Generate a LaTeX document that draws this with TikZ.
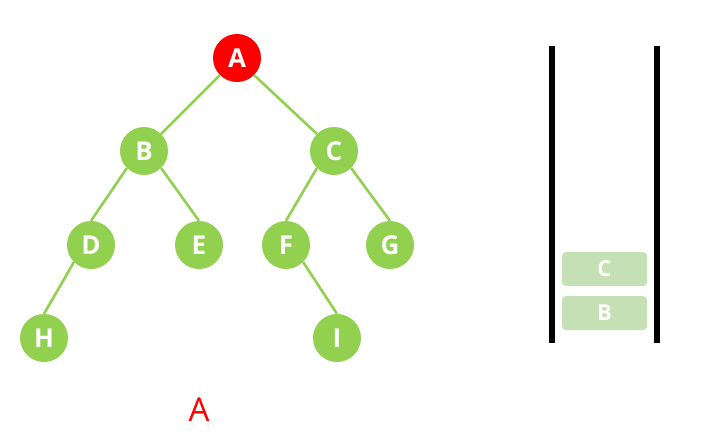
\documentclass[tikz,border=0pt]{standalone}
\usepackage{fontspec}
\setmainfont{Open Sans}
\definecolor{tgreen}{HTML}{92D050}
\definecolor{sgreen}{HTML}{C5E0B4}
\definecolor{tred}{HTML}{FF0000}
\begin{document}
\begin{tikzpicture}[x=1pt,y=-1pt,
  tn/.style={circle,fill=tgreen,minimum size=48pt,inner sep=0pt,text=white,font=\fontsize{26}{26}\selectfont\bfseries},
  rootn/.style={tn,fill=tred},
  edge/.style={draw=tgreen,line width=2.6pt},
  wall/.style={line width=6pt,black},
  sbox/.style={rounded corners=4pt,fill=sgreen,text=white,minimum width=85pt,minimum height=34pt,inner sep=0pt,font=\fontsize{22}{22}\selectfont\bfseries}]
\useasboundingbox (0,0) rectangle (721,437);
\node[rootn] (A) at (237,58) {A};
\node[tn] (B) at (144,151) {B};
\node[tn] (C) at (334,151) {C};
\node[tn] (D) at (91,245) {D};
\node[tn] (E) at (199,245) {E};
\node[tn] (F) at (286,245) {F};
\node[tn] (G) at (390,245) {G};
\node[tn] (H) at (44,338) {H};
\node[tn] (I) at (337,338) {I};
\draw[edge] (A.south west) -- (B.north east);
\draw[edge] (A.south east) -- (C.north west);
\draw[edge] (B.south west) -- (D.north);
\draw[edge] (B.south east) -- (E.north);
\draw[edge] (C.south west) -- (F.north);
\draw[edge] (C.south east) -- (G.north);
\draw[edge] (D.south west) -- (H.north);
\draw[edge] (F.south east) -- (I.north);
\coordinate (wl1) at (552,46);
\coordinate (wl2) at (552,343);
\coordinate (wr1) at (657,46);
\coordinate (wr2) at (657,343);
\draw[wall] (wl1) -- (wl2);
\draw[wall] (wr1) -- (wr2);
\node[sbox] (sc) at (604.5,269) {C};
\node[sbox] (sb) at (604.5,313) {B};
\node[text=tred,font=\fontsize{33}{33}\selectfont] (lab) at (199,410) {A};
\end{tikzpicture}
\end{document}
